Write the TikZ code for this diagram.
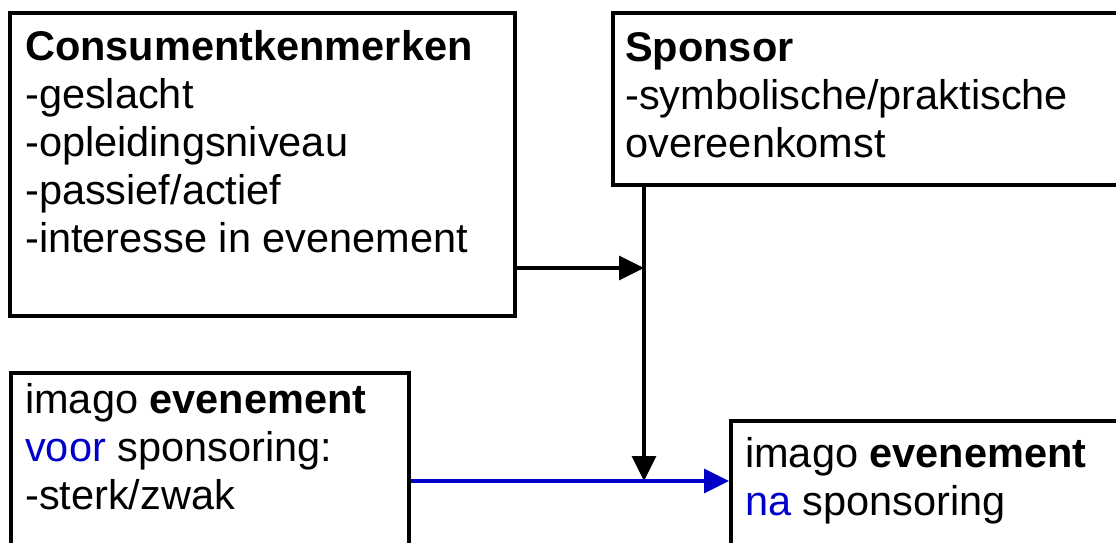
\documentclass[tikz,border=0pt]{standalone}
\usepackage{fontspec}
\setmainfont{Liberation Sans}
\usetikzlibrary{arrows.meta,calc}
\definecolor{linkblue}{RGB}{0,0,200}
\tikzset{
  box/.style={draw=black, line width=3.5pt, rectangle, inner sep=0pt, anchor=north west},
  boxtext/.style={anchor=north west, inner sep=0pt, align=left,
    font=\fontsize{41.5}{48}\selectfont},
  link/.style={line width=3.2pt, -{Triangle[length=25pt,width=24pt]}},
}
\newcommand{\firstline}{\rule{0pt}{31pt}}
\begin{document}
\begin{tikzpicture}[x=1pt,y=-1pt]
  \useasboundingbox (0,0) rectangle (1116,542);
  \clip (0,0) rectangle (1116,542);
  \fill[white] (0,0) rectangle (1116,542);

  % boxes
  \node[box, minimum width=505pt, minimum height=303pt] (b1) at (8,11) {};
  \node[box, minimum width=560pt, minimum height=172pt] (b2) at (611,11) {};
  \node[box, minimum width=398pt, minimum height=220pt] (b3) at (9,371) {};
  \node[box, minimum width=450pt, minimum height=180pt] (b4) at (729,419) {};

  % box texts
  \node[boxtext] (t1) at (25,29) {\firstline\textbf{Consumentkenmerken}\\-geslacht\\-opleidingsniveau\\-passief/actief\\-interesse in evenement};
  \node[boxtext] (t2) at (625,30) {\firstline\textbf{Sponsor}\\-symbolische/praktische\\overeenkomst};
  \node[boxtext] (t3) at (25,382) {\firstline imago \textbf{evenement}\\\textcolor{linkblue}{voor} sponsoring:\\-sterk/zwak};
  \node[boxtext] (t4) at (745,436) {\firstline imago \textbf{evenement}\\\textcolor{linkblue}{na} sponsoring};

  % junction points on the sponsor line
  \coordinate (j) at (644,268);
  \coordinate (m) at (644,481);

  % connectors
  \draw[link] (b1.east |- j) -- (j);
  \draw[link] (j |- b2.south) -- (m);
  \draw[link, draw=linkblue, fill=linkblue] (b3.east |- m) -- (b4.west |- m);
\end{tikzpicture}
\end{document}
